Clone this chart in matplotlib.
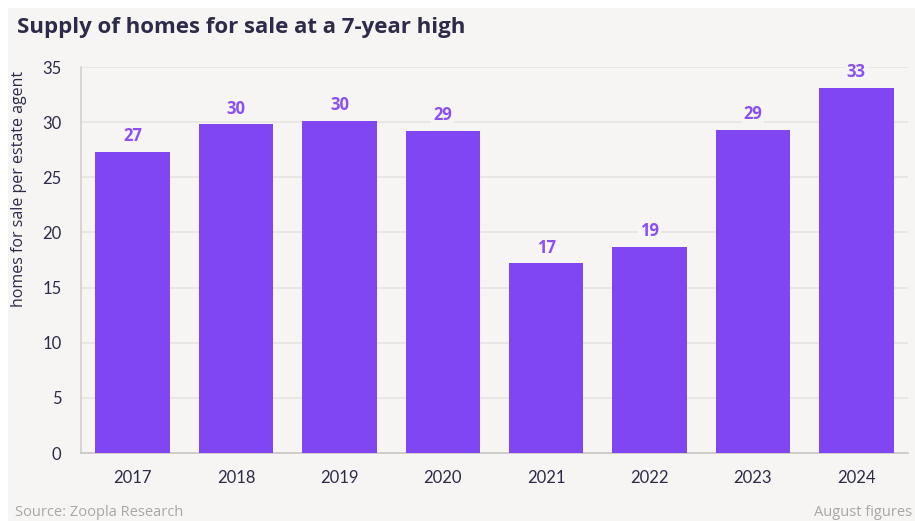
import matplotlib.pyplot as plt
from matplotlib.patches import Rectangle

years = ["2017", "2018", "2019", "2020", "2021", "2022", "2023", "2024"]
homes_per_agent = [27.3, 29.8, 30.1, 29.2, 17.2, 18.7, 29.3, 33.1]
bar_labels = ["27", "30", "30", "29", "17", "19", "29", "33"]
y_ticks = [0, 5, 10, 15, 20, 25, 30, 35]

bg = "#f6f5f3"
purple = "#8046f1"
label_purple = "#8a50f5"
dark = "#2d2b48"

plt.rcParams["font.family"] = ["Lato", "DejaVu Sans"]
wide = ["Open Sans", "DejaVu Sans"]

fig = plt.figure(figsize=(9.15, 5.21), dpi=100)
fig.patch.set_facecolor("white")
# grey card behind the chart (white strip top and left like the screenshot)
fig.patches.append(Rectangle((8 / 915, 0), 1, 1 - 8 / 521, transform=fig.transFigure,
                             facecolor=bg, edgecolor="none", zorder=-10))

ax = fig.add_axes([81 / 915, 1 - 453 / 521, (908 - 81) / 915, (453 - 67) / 521])
ax.set_facecolor(bg)

x = range(len(years))
ax.bar(x, homes_per_agent, width=0.72, color=purple, zorder=3)
for i, v in enumerate(homes_per_agent):
    ax.text(i, v + 0.6, bar_labels[i], ha="center", va="bottom", fontsize=12,
            fontweight="bold", color=label_purple, zorder=4, family=wide,
            bbox=dict(facecolor=bg, edgecolor="none", pad=1.5))

ax.set_xlim(-0.5, 7.5)
ax.set_ylim(0, 35)
ax.set_yticks(y_ticks)
ax.set_xticks(list(x))
ax.set_xticklabels(years)
ax.tick_params(axis="both", length=0, labelsize=12, labelcolor=dark)
ax.tick_params(axis="y", pad=14)
ax.tick_params(axis="x", pad=12)
ax.grid(axis="y", color="#e7e5e2", linewidth=1.2, zorder=0)

for side in ["top", "right"]:
    ax.spines[side].set_visible(False)
ax.spines["left"].set_color("#d2d0cd")
ax.spines["bottom"].set_color("#c9c7c4")
ax.spines["left"].set_linewidth(1.2)
ax.spines["bottom"].set_linewidth(1.2)

fig.text(19 / 915, 1 - 189 / 521, "homes for sale per estate agent", rotation=90,
         ha="center", va="center", fontsize=11.5, color=dark, family=wide)

fig.text(17 / 915, 1 - 28 / 521, "Supply of homes for sale at a 7-year high",
         ha="left", va="center", fontsize=16, fontweight="bold", color=dark,
         family=wide)

fig.text(15 / 915, 1 - 512 / 521, "Source: Zoopla Research", ha="left", va="center",
         fontsize=10.5, color="#a8a6a6", family=wide)
fig.text(912 / 915, 1 - 512 / 521, "August figures", ha="right", va="center",
         fontsize=10.5, color="#a8a6a6", family=wide)

fig.savefig("out.png", dpi=100, facecolor=fig.get_facecolor())
